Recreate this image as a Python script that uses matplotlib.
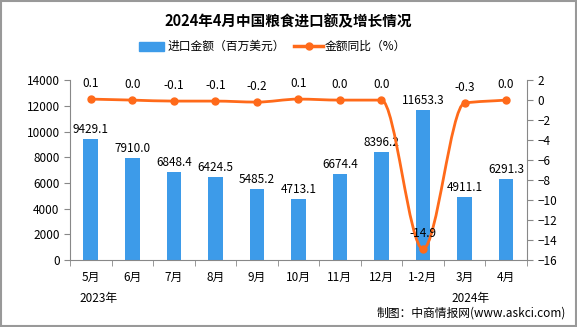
import matplotlib.pyplot as plt
import numpy as np
from matplotlib.path import Path
from matplotlib.patches import PathPatch, Rectangle

plt.rcParams['font.family'] = ['Noto Sans CJK SC', 'DejaVu Sans']

months = ['5月', '6月', '7月', '8月', '9月', '10月', '11月', '12月', '1-2月', '3月', '4月']
amount = [9429.1, 7910.0, 6848.4, 6424.5, 5485.2, 4713.1, 6674.4, 8396.2, 11653.3, 4911.1, 6291.3]
yoy = [0.1, 0.0, -0.1, -0.1, -0.2, 0.1, 0.0, 0.0, -14.9, -0.3, 0.0]

bar_c = '#3d9be9'
line_c = '#ff6a1a'
grey = '#888888'

fig = plt.figure(figsize=(5.77, 3.27), dpi=100)
ax = fig.add_axes([0.1213, 0.205, 0.7917, 0.55])
ax2 = ax.twinx()

x = np.arange(len(months))
ax.bar(x, amount, width=0.35, color=bar_c, zorder=2)
ax.set_xlim(-0.5, len(months) - 0.5)
ax.set_ylim(0, 14000)
ax.set_yticks(np.arange(0, 14001, 2000))
for xi, v in zip(x, amount):
    ax.text(xi, v + 250, f'{v:.1f}', ha='center', va='bottom', fontsize=8.5)

# smooth line: monotone cubic bezier segments through the points
y = np.array(yoy, dtype=float)
d = np.diff(y)
m = np.zeros_like(y)
m[0], m[-1] = d[0], d[-1]
for i in range(1, len(y) - 1):
    if d[i - 1] * d[i] > 0:
        m[i] = 2 / (1 / d[i - 1] + 1 / d[i])
verts = [(x[0], y[0])]
codes = [Path.MOVETO]
for i in range(len(y) - 1):
    verts += [(x[i] + 1 / 3, y[i] + m[i] / 3),
              (x[i + 1] - 1 / 3, y[i + 1] - m[i + 1] / 3),
              (x[i + 1], y[i + 1])]
    codes += [Path.CURVE4] * 3
ax2.add_patch(PathPatch(Path(verts, codes), fill=False, edgecolor=line_c, lw=2, zorder=3))
ax2.plot(x, yoy, 'o', color=line_c, ms=5, zorder=4)
ax2.set_ylim(-16, 2)
ax2.set_yticks(np.arange(-16, 3, 2))
for xi, v in zip(x, yoy):
    ax2.text(xi, v + 0.9, f'{v:.1f}', ha='center', va='bottom', fontsize=8.5)

ax.set_xticks(x)
ax.set_xticklabels(months, fontsize=8.5)
ax.set_xticks(np.arange(-0.5, len(months), 1), minor=True)
ax.tick_params(axis='x', which='major', length=0, pad=8)
ax.tick_params(axis='x', which='minor', length=4, color=grey)
ax.tick_params(axis='y', labelsize=8.5, color=grey, length=4)
ax2.tick_params(axis='y', labelsize=8.5, color=grey, length=4)

for a in (ax, ax2):
    for s in a.spines.values():
        s.set_visible(False)
ax.spines['left'].set_visible(True)
ax.spines['bottom'].set_visible(True)
ax2.spines['right'].set_visible(True)
ax.spines['left'].set_color(grey)
ax.spines['bottom'].set_color(grey)
ax2.spines['right'].set_color(grey)

fig.text(0.5, 0.935, '2024年4月中国粮食进口额及增长情况', ha='center', va='center',
         fontsize=10.5, fontweight='bold')

# legend
fig.patches.append(Rectangle((0.241, 0.845), 0.043, 0.028, transform=fig.transFigure,
                             color=bar_c, figure=fig))
fig.text(0.29, 0.859, '进口金额（百万美元）', ha='left', va='center', fontsize=8.5)
fig.lines.append(plt.Line2D([0.51, 0.56], [0.859, 0.859], transform=fig.transFigure,
                            color=line_c, lw=2.5))
fig.lines.append(plt.Line2D([0.535], [0.859], transform=fig.transFigure,
                            color=line_c, marker='o', ms=5))
fig.text(0.562, 0.859, '金额同比（%）', ha='left', va='center', fontsize=8.5)

fig.text(0.17, 0.088, '2023年', ha='center', va='center', fontsize=8.5)
fig.text(0.815, 0.088, '2024年', ha='center', va='center', fontsize=8.5)
fig.text(0.98, 0.043, '制图：中商情报网(www.askci.com)', ha='right', va='center', fontsize=8.5)

fig.patches.append(Rectangle((0.001, 0.002), 0.997, 0.995, transform=fig.transFigure,
                             fill=False, edgecolor='#999999', lw=1.5, figure=fig))

fig.savefig('out.png', dpi=100)
